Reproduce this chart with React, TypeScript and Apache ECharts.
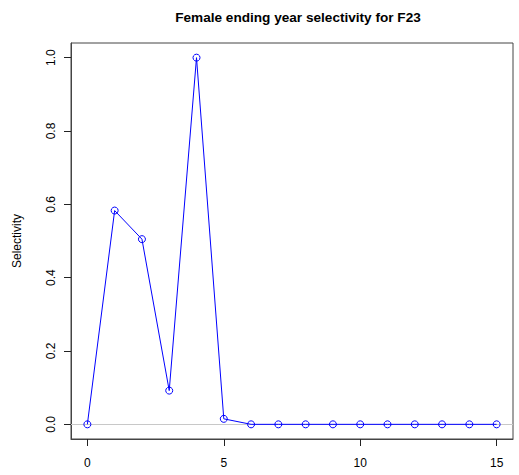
import React, { useEffect, useRef } from "react";
import * as echarts from "echarts";

const ages = [0, 1, 2, 3, 4, 5, 6, 7, 8, 9, 10, 11, 12, 13, 14, 15];
const selectivity = [0, 0.583, 0.505, 0.092, 1.0, 0.015, 0, 0, 0, 0, 0, 0, 0, 0, 0, 0];
const xTicks = [0, 5, 10, 15];
const yTicks = [0, 0.2, 0.4, 0.6, 0.8, 1.0];
const titleText = "Female ending year selectivity for F23";
const yName = "Selectivity";

export default function App() {
  const ref = useRef<HTMLDivElement>(null);
  useEffect(() => {
    if (!ref.current) return;
    const chart = echarts.init(ref.current, undefined, { renderer: "svg" });
    const font = "Liberation Sans, Arial, sans-serif";
    chart.setOption({
      animation: false,
      title: {
        text: titleText,
        left: 293,
        top: 5,
        textAlign: "center",
        textStyle: { fontFamily: font, fontSize: 13.6, fontWeight: "bold", color: "#000" },
      },
      grid: {
        left: 71,
        right: 6,
        top: 43,
        bottom: 36,
        show: true,
        borderColor: "#444",
        borderWidth: 1,
        backgroundColor: "transparent",
      },
      xAxis: {
        type: "value",
        min: -0.6,
        max: 15.6,
        axisLine: { show: true, onZero: false, lineStyle: { color: "#444" } },
        splitLine: { show: false },
        axisTick: { show: true, length: 7, inside: false, customValues: xTicks, lineStyle: { color: "#222", width: 1 } },
        axisLabel: {
          customValues: xTicks,
          margin: 18,
          fontFamily: font,
          fontSize: 12,
          color: "#000",
          formatter: (v: number) => String(v),
        },
      },
      yAxis: {
        type: "value",
        min: -0.04,
        max: 1.04,
        name: yName,
        nameLocation: "middle",
        nameGap: 48,
        nameTextStyle: { fontFamily: font, fontSize: 12, color: "#000" },
        axisLine: { show: true, onZero: false, lineStyle: { color: "#444" } },
        splitLine: { show: false },
        axisTick: { show: true, length: 7, inside: false, customValues: yTicks, lineStyle: { color: "#222", width: 1 } },
        axisLabel: {
          customValues: yTicks,
          rotate: 90,
          margin: 14,
          fontFamily: font,
          fontSize: 12,
          color: "#000",
          formatter: (v: number) => v.toFixed(1),
        },
      },
      series: [
        {
          type: "line",
          data: ages.map((a, i) => [a, selectivity[i]]),
          symbol: "circle",
          symbolSize: 7,
          lineStyle: { color: "#0000ff", width: 1 },
          itemStyle: { color: "rgba(0,0,0,0)", borderColor: "#0000ff", borderWidth: 1 },
          markLine: {
            silent: true,
            symbol: "none",
            label: { show: false },
            lineStyle: { color: "#c8c8c8", type: "solid", width: 1 },
            data: [{ yAxis: 0 }],
            z: 1,
          },
          z: 3,
        },
      ],
    });
    return () => chart.dispose();
  }, []);
  return (
    <div
      ref={ref}
      style={{ position: "fixed", left: 0, top: 0, width: 519, height: 475, background: "#fff" }}
    />
  );
}
